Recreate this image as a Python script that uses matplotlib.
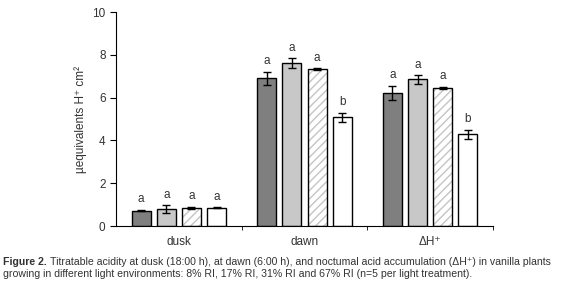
import numpy as np
import matplotlib
matplotlib.use('Agg')
import matplotlib.pyplot as plt

plt.rcParams['font.family'] = ['Liberation Sans', 'DejaVu Sans']

# data
groups = ['dusk', 'dawn', 'ΔH⁺']
treatments = ['8% RI', '17% RI', '31% RI', '67% RI']
means = {
    '8% RI':  [0.71, 6.90, 6.23],
    '17% RI': [0.78, 7.62, 6.85],
    '31% RI': [0.86, 7.33, 6.45],
    '67% RI': [0.85, 5.08, 4.28],
}
errors = {
    '8% RI':  [0.03, 0.30, 0.32],
    '17% RI': [0.18, 0.22, 0.19],
    '31% RI': [0.05, 0.04, 0.05],
    '67% RI': [0.02, 0.20, 0.22],
}
letters = {
    '8% RI':  ['a', 'a', 'a'],
    '17% RI': ['a', 'a', 'a'],
    '31% RI': ['a', 'a', 'a'],
    '67% RI': ['a', 'b', 'b'],
}

faces = ['#7f7f7f', '#c8c8c8', 'white', 'white']
hatches = [None, None, '////', None]
txt = '#333333'

fig = plt.figure(figsize=(5.62, 2.87), dpi=100)
ax = fig.add_axes([0.2064, 0.2125, 0.6708, 0.7455])

x = np.arange(len(groups))
offsets = [-0.3, -0.1, 0.1, 0.3]
w = 0.152
for i, t in enumerate(treatments):
    if hatches[i]:
        # light grey hatch underneath, black outline drawn on top
        ax.bar(x + offsets[i], means[t], w, color=faces[i], edgecolor='#c4c4c4',
               linewidth=0, hatch=hatches[i], zorder=2)
        ax.bar(x + offsets[i], means[t], w, fill=False, edgecolor='black',
               linewidth=1.0, zorder=2.5)
    else:
        ax.bar(x + offsets[i], means[t], w, color=faces[i], edgecolor='black',
               linewidth=1.0, zorder=2)
    ax.errorbar(x + offsets[i], means[t], yerr=errors[t], fmt='none',
                ecolor='black', elinewidth=1.0, capsize=3, capthick=1.0, zorder=3)
    for j in range(len(groups)):
        ax.text(x[j] + offsets[i], means[t][j] + errors[t][j] + 0.5, letters[t][j],
                ha='center', va='center', fontsize=8.5, color=txt)

ax.set_xlim(-0.5, 2.5)
ax.set_ylim(0, 10)
ax.set_yticks(np.arange(0, 11, 2))
ax.set_xticks(x)
ax.set_xticklabels(groups)
ax.set_xticks([0.5, 1.5, 2.5], minor=True)
ax.tick_params(axis='x', which='major', length=0, pad=7, labelsize=8.5, labelcolor=txt)
ax.tick_params(axis='x', which='minor', length=3, direction='out')
ax.tick_params(axis='y', length=4, direction='out', labelsize=8.5, labelcolor=txt)
ax.spines['top'].set_visible(False)
ax.spines['right'].set_visible(False)
ax.set_ylabel('µequivalents H⁺ cm²', fontsize=8.5, color=txt, labelpad=4)

# caption
fig.canvas.draw()
r = fig.canvas.get_renderer()
b = fig.text(0.006, 0.087, 'Figure 2.', fontsize=7.6, fontweight='bold', color=txt, va='center')
bb = b.get_window_extent(r)
fig.text(bb.x1 / fig.bbox.width + 0.006, 0.087,
         'Titratable acidity at dusk (18:00 h), at dawn (6:00 h), and noctumal acid '
         'accumulation (ΔH⁺) in vanilla plants',
         fontsize=7.6, color=txt, va='center')
fig.text(0.006, 0.045,
         'growing in different light environments: 8% RI, 17% RI, 31% RI and 67% RI '
         '(n=5 per light treatment).',
         fontsize=7.6, color=txt, va='center')

fig.savefig('out.png', dpi=100)
